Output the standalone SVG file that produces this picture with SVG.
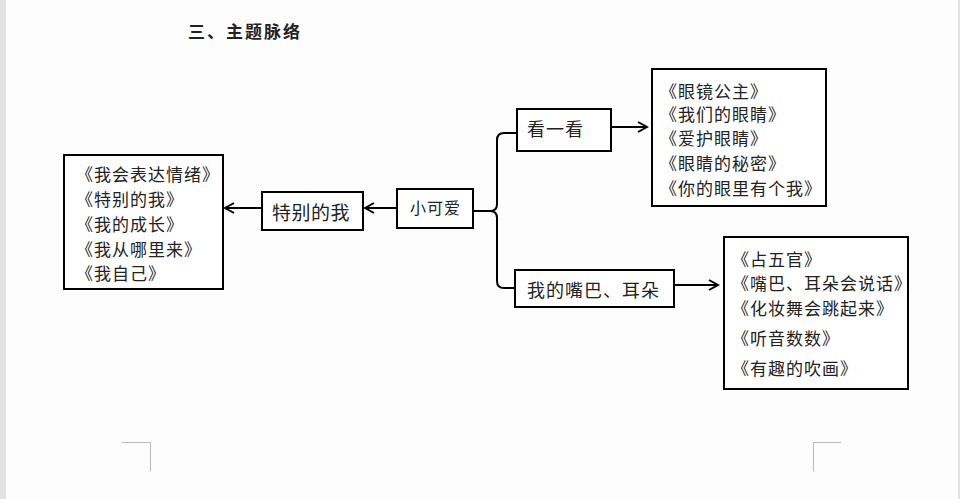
<svg xmlns="http://www.w3.org/2000/svg" width="960" height="499" viewBox="0 0 960 499">
<style>
.box{fill:#fff;stroke:#000;stroke-width:2}
.t{font-family:"Noto Sans CJK SC","Noto Sans",sans-serif;fill:#222;dominant-baseline:central}
.li{font-size:17px;letter-spacing:1px}
.lb{font-size:18px;letter-spacing:1px}
.c{fill:none;stroke:#000;stroke-width:2}
.mark{fill:none;stroke:#b8b8b8;stroke-width:1}
</style>
<defs>
<marker id="ah" viewBox="-1 -1 12 12" refX="9" refY="5" markerWidth="12" markerHeight="12" markerUnits="userSpaceOnUse" orient="auto">
<path d="M0,0 L9,5 L0,10" fill="none" stroke="#000" stroke-width="2"/>
</marker>
</defs>
<rect x="0" y="0" width="960" height="499" fill="#fdfdfd"/>
<rect x="0" y="0" width="6" height="499" fill="#e2e2e4"/>
<rect x="958" y="0" width="2" height="499" fill="#e2e2e4"/>
<g id="page-marks">
<path class="mark" d="M122,442.5 H150.5 V471"/>
<path class="mark" d="M841,442.5 H813.5 V471"/>
</g>
<text id="heading" class="t" x="188" y="30" font-size="17" font-weight="bold" letter-spacing="2">三、主题脉络</text>
<g id="connectors">
<path class="c" d="M397,208 H365" marker-end="url(#ah)"/>
<path class="c" d="M262,208 H225" marker-end="url(#ah)"/>
<path class="c" d="M611,127 H647" marker-end="url(#ah)"/>
<path class="c" d="M675,285 H718" marker-end="url(#ah)"/>
<path class="c" d="M517,133 H504 Q497,133 497,140 V204 Q497,211 490,211 H474 M490,211 Q497,211 497,218 V281 Q497,288 504,288 H515"/>
</g>
<g id="node-list-left">
<rect class="box" x="64" y="155" width="159" height="134"/>
<text class="t li" x="76" y="173">《我会表达情绪》</text>
<text class="t li" x="76" y="198">《特别的我》</text>
<text class="t li" x="76" y="223">《我的成长》</text>
<text class="t li" x="76" y="248">《我从哪里来》</text>
<text class="t li" x="76" y="272">《我自己》</text>
</g>
<g id="node-tebiedewo">
<rect class="box" x="262" y="192" width="101" height="38"/>
<text class="t" x="272" y="211" font-size="19" letter-spacing="0.5">特别的我</text>
</g>
<g id="node-xiaokeai">
<rect class="box" x="397" y="189" width="76" height="39"/>
<text class="t" x="410" y="207" font-size="16" letter-spacing="1">小可爱</text>
</g>
<g id="node-kanyikan">
<rect class="box" x="517" y="109" width="94" height="42"/>
<text class="t lb" x="527" y="128">看一看</text>
</g>
<g id="node-list-top">
<rect class="box" x="652" y="69" width="174" height="137"/>
<text class="t li" x="660" y="90">《眼镜公主》</text>
<text class="t li" x="660" y="113">《我们的眼睛》</text>
<text class="t li" x="660" y="137">《爱护眼睛》</text>
<text class="t li" x="660" y="162">《眼睛的秘密》</text>
<text class="t li" x="660" y="187">《你的眼里有个我》</text>
</g>
<g id="node-zuibaerduo">
<rect class="box" x="515" y="270" width="159" height="37"/>
<text class="t lb" x="527" y="289">我的嘴巴、耳朵</text>
</g>
<g id="node-list-bottom">
<rect class="box" x="724" y="237" width="184" height="152"/>
<text class="t li" x="732" y="258">《占五官》</text>
<text class="t li" x="732" y="282" letter-spacing="0.2">《嘴巴、耳朵会说话》</text>
<text class="t li" x="732" y="307">《化妆舞会跳起来》</text>
<text class="t li" x="732" y="337">《听音数数》</text>
<text class="t li" x="732" y="367">《有趣的吹画》</text>
</g>
</svg>
